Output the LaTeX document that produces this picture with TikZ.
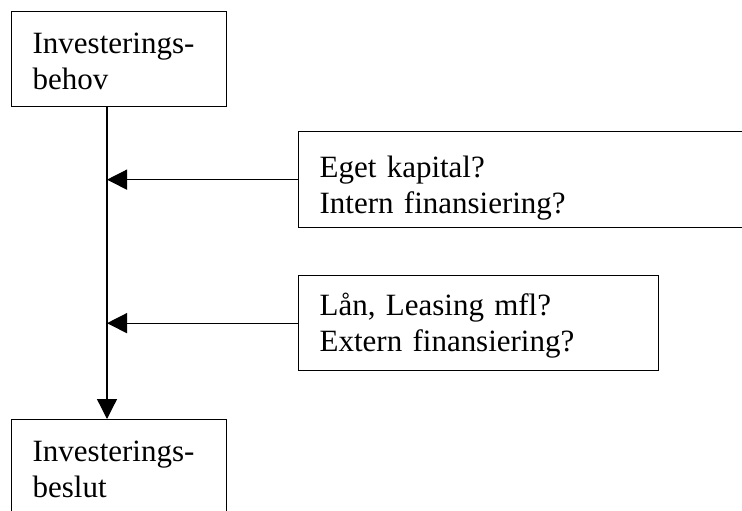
\documentclass[tikz,border=0pt]{standalone}
\usepackage{fontspec}
\setmainfont{Liberation Serif}
\usetikzlibrary{arrows.meta, calc, positioning}
\tikzstyle{box}= [draw=black, line width=1.3bp, anchor=north west, inner xsep=21bp, inner ysep=0pt, align=left, font=\fontsize{31.1pt}{35.6pt}\selectfont]
\tikzstyle{Box}= [box, text width=173bp, text height=42bp, text depth=53bp]
\tikzstyle{QBox}= [box, text height=46bp, text depth=50bp]

\begin{document}
\begin{tikzpicture}[x=1bp, y=-1bp, >={Triangle[length=20bp,width=20bp]}]
    \useasboundingbox (0,0) rectangle (742,511);
    \clip (0,0) rectangle (742,511);

    \node [Box] (Behov) at (11,11) {Investerings-\\behov};
    \node [QBox, text width=418bp] (Intern) at (298,131) {Eget kapital?\\Intern finansiering?};
    \node [QBox, text width=318bp, text height=40bp, text depth=55bp] (Extern) at (298,275)
    {Lån, Leasing mfl?\\Extern finansiering?};
    \node [Box] (Beslut) at (11,419) {Investerings-\\beslut};

    % main path
    \coordinate (Trunk) at ($(Behov.south west)+(96,0)$);
    \draw[->, line width=1.3bp] (Trunk) -- (Trunk |- Beslut.north);

    % financing paths
    \draw[->, line width=1.3bp] (Intern.west) -- (Intern.west -| Trunk);
    \draw[->, line width=1.3bp] (Extern.west) -- (Extern.west -| Trunk);

\end{tikzpicture}
\end{document}
